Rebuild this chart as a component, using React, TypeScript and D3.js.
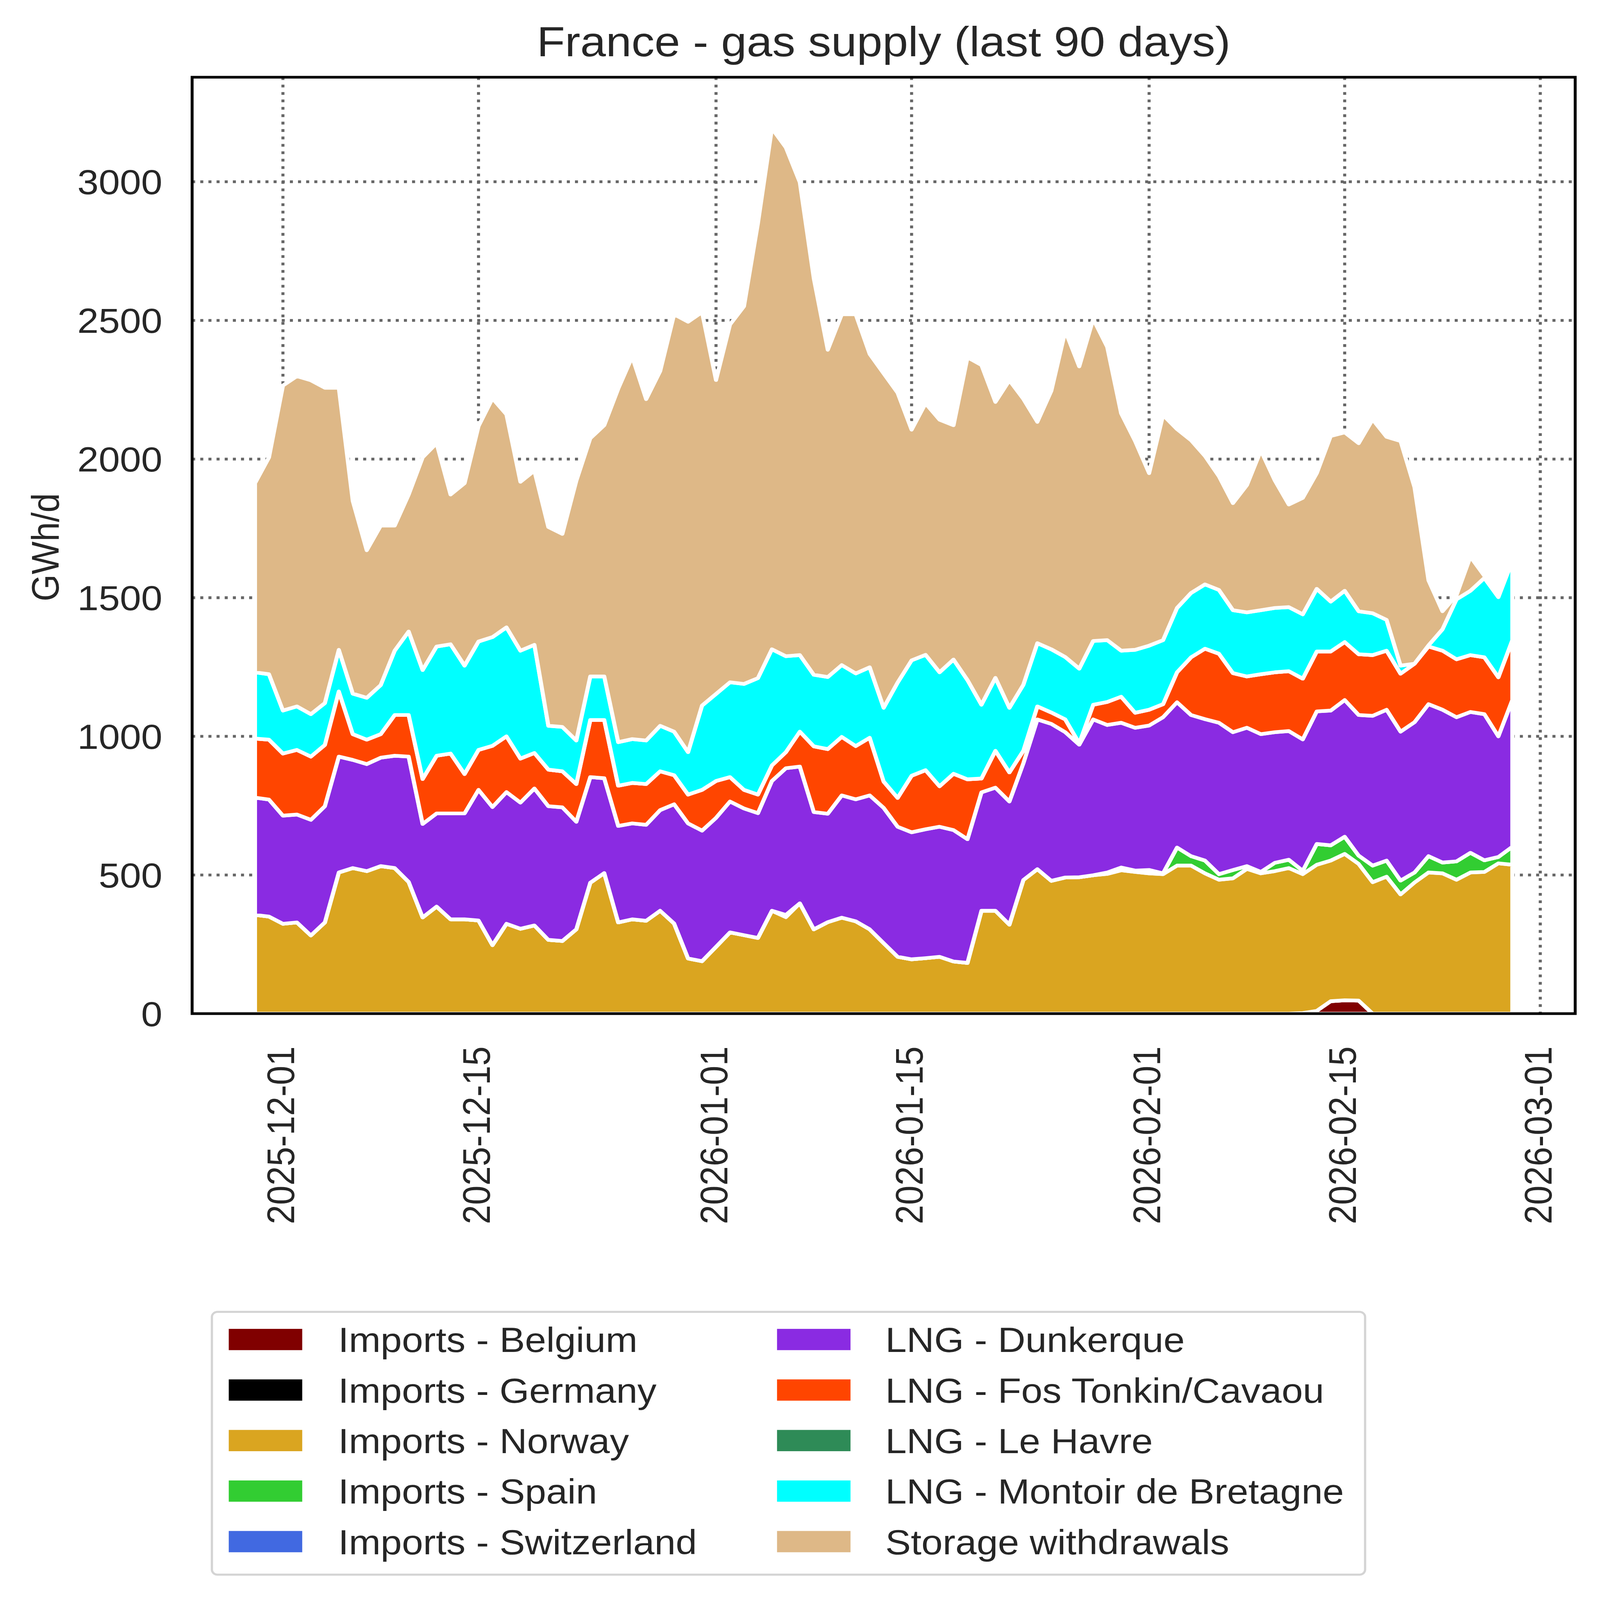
import React, { useEffect, useRef } from 'react';
import * as d3 from 'd3';

// one value per day, 2025-11-29 .. 2026-02-27 (GWh/d)
const firstDay = new Date(Date.UTC(2025, 10, 29));
const dayCount = 91;

const seriesNames = [
  'Imports - Belgium',
  'Imports - Germany',
  'Imports - Norway',
  'Imports - Spain',
  'Imports - Switzerland',
  'LNG - Dunkerque',
  'LNG - Fos Tonkin/Cavaou',
  'LNG - Le Havre',
  'LNG - Montoir de Bretagne',
  'Storage withdrawals',
];
const seriesColors = [
  '#800000', '#000000', '#daa520', '#32cd32', '#4169e1',
  '#8a2be2', '#ff4500', '#2e8b57', '#00ffff', '#deb887',
];

const belgium = [
  0, 0, 0, 0, 0, 0, 0, 0, 0, 0,
  0, 0, 0, 0, 0, 0, 0, 0, 0, 0,
  0, 0, 0, 0, 0, 0, 0, 0, 0, 0,
  0, 0, 0, 0, 0, 0, 0, 0, 0, 0,
  0, 0, 0, 0, 0, 0, 0, 0, 0, 0,
  0, 0, 0, 0, 0, 0, 0, 0, 0, 0,
  0, 0, 0, 0, 0, 0, 0, 0, 0, 0,
  0, 0, 0, 0, 0, 2, 10, 45, 48, 47,
  0, 0, 0, 0, 0, 0, 0, 0, 0, 0,
  0,
];
const germany = [
  0, 0, 0, 0, 0, 0, 0, 0, 0, 0,
  0, 0, 0, 0, 0, 0, 0, 0, 0, 0,
  0, 0, 0, 0, 0, 0, 0, 0, 0, 0,
  0, 0, 0, 0, 0, 0, 0, 0, 0, 0,
  0, 0, 0, 0, 0, 0, 0, 0, 0, 0,
  0, 0, 0, 0, 0, 0, 0, 0, 0, 0,
  0, 0, 0, 0, 0, 0, 0, 0, 0, 0,
  0, 0, 0, 0, 0, 0, 0, 0, 0, 0,
  0, 0, 0, 0, 0, 0, 0, 0, 0, 0,
  0,
];
const norway = [
  356, 350, 324, 329, 282, 329, 509, 525, 514, 532,
  525, 475, 347, 386, 340, 340, 336, 247, 324, 306,
  318, 266, 262, 304, 472, 507, 329, 340, 335, 371,
  325, 199, 189, 241, 293, 283, 273, 371, 348, 398,
  304, 330, 346, 333, 304, 254, 205, 196, 200, 205,
  188, 183, 371, 371, 321, 482, 521, 479, 491, 492,
  499, 504, 517, 511, 506, 503, 534, 534, 506, 483,
  488, 522, 506, 514, 525, 501, 527, 507, 528, 493,
  474, 494, 430, 473, 509, 506, 483, 509, 511, 542,
  537,
];
const spain = [
  0, 0, 0, 0, 0, 0, 0, 0, 0, 0,
  0, 0, 0, 0, 0, 0, 0, 0, 0, 0,
  0, 0, 0, 0, 0, 0, 0, 0, 0, 0,
  0, 0, 0, 0, 0, 0, 0, 0, 8, 0,
  0, 0, 0, 0, 0, 0, 0, 0, 0, 0,
  0, 0, 0, 0, 0, 0, 0, 0, 0, 0,
  0, 5, 10, 5, 12, 3, 65, 34, 46, 20,
  30, 10, 5, 30, 30, 12, 75, 55, 62, 30,
  60, 58, 50, 36, 59, 39, 66, 71, 42, 23,
  65,
];
const switzerland = [
  0, 0, 0, 0, 0, 0, 0, 0, 0, 0,
  0, 0, 0, 0, 0, 0, 0, 0, 0, 0,
  0, 0, 0, 0, 0, 0, 0, 0, 0, 0,
  0, 0, 0, 0, 0, 0, 0, 0, 0, 0,
  0, 0, 0, 0, 0, 0, 0, 0, 0, 0,
  0, 0, 0, 0, 0, 0, 0, 0, 0, 0,
  0, 0, 0, 0, 0, 0, 0, 0, 0, 0,
  0, 0, 0, 0, 0, 0, 0, 0, 0, 0,
  0, 0, 0, 0, 0, 0, 0, 0, 0, 0,
  0,
];
const dunkerque = [
  423, 422, 390, 389, 417, 419, 418, 390, 386, 391,
  405, 452, 337, 336, 382, 382, 471, 498, 475, 455,
  494, 482, 482, 388, 381, 342, 348, 346, 346, 363,
  430, 487, 471, 465, 472, 457, 450, 468, 529, 493,
  423, 391, 441, 440, 483, 488, 469, 458, 465, 469,
  474, 446, 427, 444, 444, 421, 540, 566, 524, 478,
  562, 532, 522, 515, 521, 563, 524, 509, 510, 546,
  497, 499, 497, 471, 464, 474, 478, 486, 493, 507,
  540, 544, 537, 542, 548, 551, 520, 508, 527, 435,
  529,
];
const fos = [
  213, 216, 224, 233, 228, 221, 235, 93, 88, 85,
  147, 150, 162, 208, 216, 142, 144, 221, 201, 159,
  128, 132, 130, 136, 206, 210, 145, 146, 147, 140,
  105, 104, 147, 133, 88, 67, 67, 56, 58, 126,
  237, 233, 211, 192, 208, 95, 104, 204, 213, 146,
  203, 216, 50, 133, 105, 45, 47, 41, 46, 5,
  53, 83, 94, 54, 57, 47, 108, 208, 254, 249,
  213, 185, 216, 216, 216, 219, 216, 213, 209, 219,
  219, 213, 209, 211, 208, 213, 209, 205, 205, 213,
  216,
];
const leHavre = [
  0, 0, 0, 0, 0, 0, 0, 0, 0, 0,
  0, 0, 0, 0, 0, 0, 0, 0, 0, 0,
  0, 0, 0, 0, 0, 0, 0, 0, 0, 0,
  0, 0, 0, 0, 0, 0, 0, 0, 0, 0,
  0, 0, 0, 0, 0, 0, 0, 0, 0, 0,
  0, 0, 0, 0, 0, 0, 0, 0, 0, 0,
  0, 0, 0, 0, 0, 0, 0, 0, 0, 0,
  0, 0, 0, 0, 0, 0, 0, 0, 0, 0,
  0, 0, 0, 0, 0, 0, 0, 0, 0, 0,
  0,
];
const montoir = [
  239, 236, 155, 157, 153, 151, 150, 146, 151, 177,
  232, 301, 393, 394, 394, 391, 391, 392, 393, 389,
  390, 158, 160, 157, 157, 157, 157, 158, 157, 164,
  157, 153, 304, 314, 342, 382, 420, 419, 346, 276,
  258, 260, 259, 262, 254, 266, 416, 416, 416, 411,
  412, 358, 266, 263, 233, 238, 228, 228, 225, 269,
  230, 223, 166, 227, 231, 231, 232, 232, 232, 230,
  227, 231, 231, 232, 231, 232, 226, 180, 185, 155,
  151, 111, 29, 0, 4, 77, 216, 232, 286, 289,
  286,
];
const storage = [
  682, 782, 1172, 1191, 1204, 1137, 945, 695, 532, 575,
  451, 494, 767, 733, 540, 658, 777, 861, 768, 609,
  628, 717, 696, 937, 859, 906, 1275, 1379, 1231, 1279,
  1505, 1552, 1419, 1132, 1290, 1362, 1641, 1879, 1835, 1705,
  1430, 1180, 1265, 1295, 1130, 1206, 1045, 832, 907, 911,
  845, 1164, 1225, 995, 1181, 1031, 798, 932, 1176, 1090,
  1161, 1058, 856, 753, 622, 812, 645, 551, 463, 410,
  386, 459, 576, 460, 370, 420, 417, 597, 571, 606,
  699, 660, 810, 636, 235, 65, 15, 123, 8, 0,
  0,
];

const seriesValues = [
  belgium, germany, norway, spain, switzerland,
  dunkerque, fos, leHavre, montoir, storage,
];

const yTicks = [0, 500, 1000, 1500, 2000, 2500, 3000];
const xTickDates = ['2025-12-01', '2025-12-15', '2026-01-01', '2026-01-15', '2026-02-01', '2026-02-15', '2026-03-01'];

// drawing units: the reference picture divided by 4.037
const S = 4.037;
const W = 5749 / S;
const H = 6315 / S;
const FONT = '"Liberation Sans", Arial, Helvetica, sans-serif';
const TEXT = '#262626';

const GasSupplyChart: React.FC = () => {
  const ref = useRef<SVGSVGElement>(null);

  useEffect(() => {
    if (!ref.current) return;
    const svg = d3.select(ref.current);
    svg.selectAll('*').remove();

    const plot = { left: 171, right: 1402, top: 75.5, bottom: 991 };

    const dates = d3.utcDay.range(firstDay, d3.utcDay.offset(firstDay, dayCount));
    const rows = dates.map((date, i) => {
      const row: any = { date };
      seriesNames.forEach((name, k) => { row[name] = seriesValues[k][i]; });
      return row;
    });

    const halfMargin = 4.5 * 24 * 3600 * 1000;
    const x = d3.scaleUtc()
      .domain([+dates[0] - halfMargin, +dates[dates.length - 1] + halfMargin])
      .range([plot.left, plot.right]);
    const y = d3.scaleLinear().domain([0, 3377]).range([plot.bottom, plot.top]);

    svg.append('rect').attr('x', 0).attr('y', 0).attr('width', W).attr('height', H).attr('fill', '#fff');

    // grid
    const grid = svg.append('g')
      .attr('stroke', '#666666')
      .attr('stroke-width', 2.7)
      .attr('stroke-dasharray', '2.7 4.55');
    xTickDates.forEach(s => {
      const xv = x(new Date(s + 'T00:00:00Z'));
      grid.append('line').attr('x1', xv).attr('x2', xv).attr('y1', plot.top).attr('y2', plot.bottom);
    });
    yTicks.slice(1).forEach(t => {
      grid.append('line').attr('x1', plot.left).attr('x2', plot.right).attr('y1', y(t)).attr('y2', y(t));
    });

    // stacked areas
    const stack = d3.stack<any>().keys(seriesNames);
    const layers = stack(rows);
    const area = d3.area<d3.SeriesPoint<any>>()
      .x(d => x(d.data.date))
      .y0(d => y(d[0]))
      .y1(d => y(d[1]));

    svg.append('defs').append('clipPath').attr('id', 'plotclip')
      .append('rect')
      .attr('x', plot.left).attr('y', plot.top)
      .attr('width', plot.right - plot.left).attr('height', plot.bottom - plot.top);

    svg.append('g')
      .attr('clip-path', 'url(#plotclip)')
      .selectAll('path')
      .data(layers)
      .join('path')
      .attr('d', d => area(d) as string)
      .attr('fill', (_, i) => seriesColors[i])
      .attr('stroke', '#ffffff')
      .attr('stroke-width', 3.6)
      .attr('stroke-linejoin', 'round');

    // frame
    svg.append('rect')
      .attr('x', plot.left).attr('y', plot.top)
      .attr('width', plot.right - plot.left).attr('height', plot.bottom - plot.top)
      .attr('fill', 'none').attr('stroke', '#000').attr('stroke-width', 2.6);

    // y tick labels
    svg.append('g').selectAll('text')
      .data(yTicks)
      .join('text')
      .attr('x', 144.5)
      .attr('y', d => y(d))
      .attr('dy', '0.36em')
      .attr('text-anchor', 'end')
      .attr('font-family', FONT)
      .attr('font-size', 34)
      .attr('fill', TEXT)
      .text(d => String(d));

    // x tick labels (rotated)
    svg.append('g').selectAll('text')
      .data(xTickDates)
      .join('text')
      .attr('transform', d => `translate(${x(new Date(d + 'T00:00:00Z')) + 10},1023) rotate(-90)`)
      .attr('text-anchor', 'end')
      .attr('font-family', FONT)
      .attr('font-size', 34)
      .attr('fill', TEXT)
      .text(d => d);

    // y label
    svg.append('text')
      .attr('transform', 'translate(52,535) rotate(-90)')
      .attr('text-anchor', 'middle')
      .attr('font-family', FONT)
      .attr('font-size', 34)
      .attr('fill', TEXT)
      .text('GWh/d');

    // title
    svg.append('text')
      .attr('x', (plot.left + plot.right) / 2)
      .attr('y', 55)
      .attr('text-anchor', 'middle')
      .attr('font-family', FONT)
      .attr('font-size', 41)
      .attr('fill', TEXT)
      .text('France - gas supply (last 90 days)');

    // legend
    const legend = svg.append('g');
    legend.append('rect')
      .attr('x', 188.6).attr('y', 1282.6)
      .attr('width', 1215 - 188.6).attr('height', 1539.5 - 1282.6)
      .attr('rx', 5).attr('ry', 5)
      .attr('fill', '#fff')
      .attr('stroke', '#d4d4d4')
      .attr('stroke-width', 2);
    seriesNames.forEach((name, i) => {
      const col = Math.floor(i / 5);
      const row = i % 5;
      const cy = 1309.6 + row * 49.4;
      const px = col === 0 ? 203.6 : 691.6;
      const tx = col === 0 ? 301 : 788;
      legend.append('rect')
        .attr('x', px).attr('y', cy - 10.4)
        .attr('width', 65.4).attr('height', 20.8)
        .attr('fill', seriesColors[i]);
      legend.append('text')
        .attr('x', tx).attr('y', cy + 12.3)
        .attr('font-family', FONT)
        .attr('font-size', 34)
        .attr('fill', TEXT)
        .text(name);
    });
  }, []);

  // the browser window is smaller than the reference picture, so the whole
  // figure is fitted to the window
  return (
    <svg
      ref={ref}
      viewBox={`0 0 ${W} ${H}`}
      preserveAspectRatio="none"
      style={{ position: 'absolute', left: 0, top: 0, width: '100vw', height: '100vh', display: 'block' }}
    />
  );
};

export default function App() {
  return <GasSupplyChart />;
}
